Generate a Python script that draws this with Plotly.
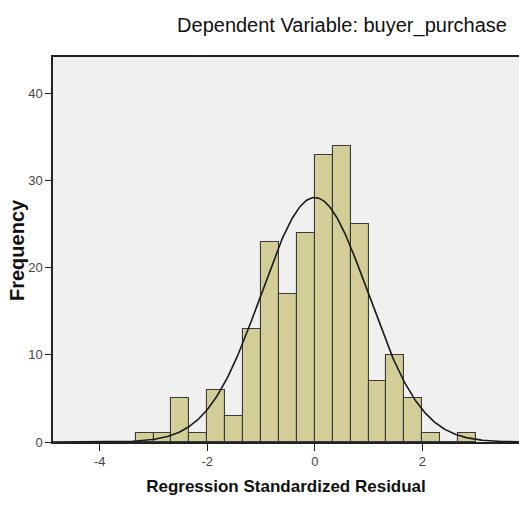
import numpy as np
import plotly.graph_objects as go

# ---- data ----
bin_start = -10 / 3          # left edge of first bin
bin_width = 1 / 3
counts = [1, 1, 5, 1, 6, 3, 13, 23, 17, 24, 33, 34, 25, 7, 10, 5, 1, 0, 1]
x_ticks = [-4, -2, 0, 2]
y_ticks = [0, 10, 20, 30, 40]
resid_mean = 0.0
resid_sd = 0.995
n_obs = sum(counts)

title_text = "Dependent Variable: buyer_purchase"
x_title = "Regression Standardized Residual"
y_title = "Frequency"

x_range = [-4.87, 3.80]
y_range = [0, 44.2]

centers = [bin_start + bin_width * (i + 0.5) for i in range(len(counts))]

# normal curve scaled to histogram counts
xs = np.linspace(x_range[0], x_range[1], 400)
ys = n_obs * bin_width / (resid_sd * np.sqrt(2 * np.pi)) * np.exp(-0.5 * ((xs - resid_mean) / resid_sd) ** 2)

W, H = 519, 505
L, T, B = 53, 57, 63

fig = go.Figure()
fig.add_trace(go.Bar(
    x=centers, y=counts, width=[bin_width] * len(counts),
    marker=dict(color="#d3ce97", line=dict(color="#3a3a3a", width=1.1)),
    hoverinfo="x+y", showlegend=False,
))
fig.add_trace(go.Scatter(
    x=xs, y=ys, mode="lines",
    line=dict(color="#1a1a1a", width=1.6),
    hoverinfo="skip", showlegend=False,
))

fig.add_annotation(
    text="<b>" + y_title + "</b>", textangle=-90,
    xref="paper", yref="paper",
    x=(17 - L) / (W - L), y=(H - B - 250) / (H - T - B),
    xanchor="center", yanchor="middle", showarrow=False,
    font=dict(size=20, color="#111111"),
)

fig.update_layout(
    width=W, height=H,
    margin=dict(l=L, r=0, t=T, b=B, autoexpand=False),
    paper_bgcolor="white",
    plot_bgcolor="#f0f0f0",
    font=dict(family="Liberation Sans, Arial, sans-serif"),
    bargap=0,
    title=dict(
        text=title_text, x=342 / W, xanchor="center", xref="container",
        y=1 - 25 / H, yanchor="middle", yref="container",
        font=dict(size=20, color="#111111"),
    ),
    xaxis=dict(
        range=x_range, tickvals=x_ticks, ticktext=[str(v) for v in x_ticks],
        ticks="outside", ticklen=7, tickcolor="#222222", tickwidth=1.3,
        showline=True, linecolor="#222222", linewidth=1.5, mirror=True,
        showgrid=False, zeroline=False, automargin=False,
        tickfont=dict(size=13, color="#444444"),
        title=dict(text="<b>" + x_title + "</b>", font=dict(size=17, color="#111111"), standoff=12),
    ),
    yaxis=dict(
        range=y_range, tickvals=y_ticks, ticktext=[str(v) for v in y_ticks],
        ticks="outside", ticklen=6, tickcolor="#222222", tickwidth=1.3,
        showline=True, linecolor="#222222", linewidth=1.5,
        showgrid=False, zeroline=False, automargin=False,
        tickfont=dict(size=13, color="#444444"),
    ),
)

fig.write_html(
    "out.html",
    config={"displayModeBar": False},
    post_script="document.body.style.margin='0';document.body.style.overflow='hidden';",
)
